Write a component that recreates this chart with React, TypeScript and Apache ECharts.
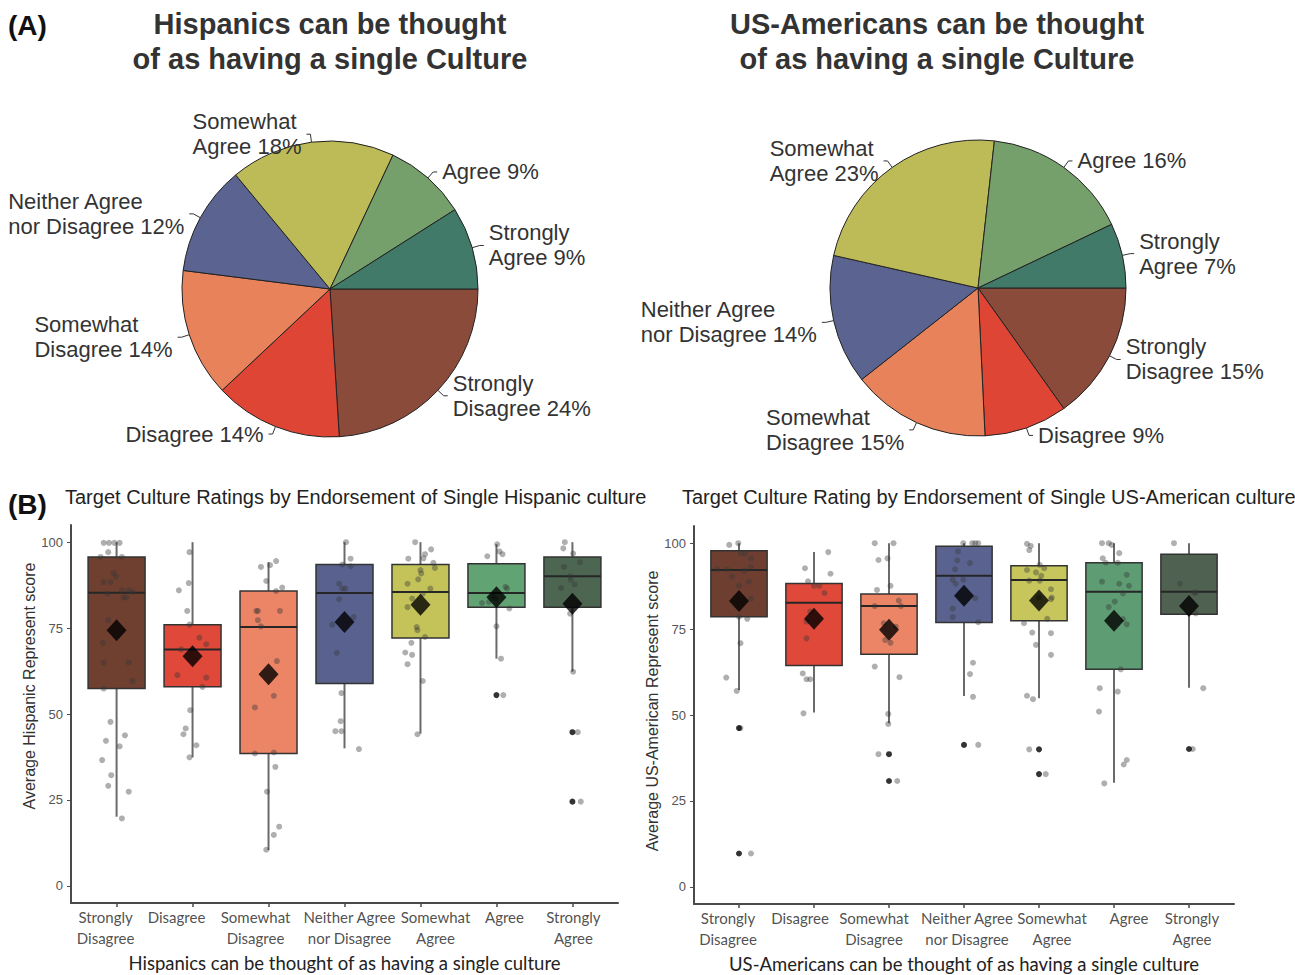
import React, { useEffect, useRef } from "react";
import * as echarts from "echarts";

// ---------- DATA ----------
const answerLabels = [
  "Strongly\nDisagree",
  "Disagree",
  "Somewhat\nDisagree",
  "Neither Agree\nnor Disagree",
  "Somewhat\nAgree",
  "Agree",
  "Strongly\nAgree",
];
const catTicks = [1, 2, 3, 4, 5, 6, 7];
const scoreTicks = [0, 25, 50, 75, 100];

const pieColors = ["#8A4B3B", "#DE4535", "#E8825A", "#5B6390", "#BDBB58", "#76A06B", "#417A68"];
const hispPie = [24, 14, 14, 12, 18, 9, 9];
const usPie = [15, 9, 15, 14, 23, 16, 7];

const hispBoxColors = ["#6F3F30", "#E0483A", "#EC8466", "#59628F", "#C3C35A", "#62A374", "#4D6652"];
const usBoxColors = ["#6E3F31", "#E0483A", "#EC8466", "#5A6390", "#C7C65C", "#5E9C74", "#4F6252"];

// [min, Q1, median, Q3, max]
const hispBoxStats = [
  [20.1, 57.4, 85.3, 95.7, 100],
  [37.4, 57.9, 68.8, 76.0, 100],
  [10.4, 38.5, 75.3, 85.8, 94.2],
  [40.0, 58.9, 85.2, 93.5, 100],
  [44.3, 72.1, 85.5, 93.5, 100],
  [66.1, 81.1, 85.2, 93.7, 99.4],
  [62.3, 81.1, 90.1, 95.7, 100],
];
const hispMeans = [74.4, 66.8, 61.6, 76.8, 81.8, 84.0, 82.1];
// [category, outlier value]
const hispOutliers = [
  [6, 55.5],
  [7, 44.7],
  [7, 24.5],
];
// [category, jitter offset, value]
const hispPoints = [
  [1, -0.17, 99.8], [1, -0.1, 99.8], [1, -0.03, 99.8], [1, 0.04, 99.8], [1, -0.11, 97.1],
  [1, -0.21, 95.7], [1, 0.07, 95.7], [1, -0.04, 91], [1, -0.01, 90], [1, -0.17, 88.4],
  [1, -0.08, 88.4], [1, -0.12, 85], [1, 0.07, 86], [1, 0.16, 86], [1, 0.21, 85.5],
  [1, 0.09, 83.9], [1, 0.13, 83.9], [1, -0.11, 77.3], [1, -0.18, 70.7], [1, -0.17, 64.9],
  [1, 0.16, 65], [1, 0.21, 59.6], [1, -0.17, 57.4], [1, -0.08, 47.7], [1, -0.14, 42.2],
  [1, 0.11, 43.8], [1, 0.04, 40.6], [1, -0.19, 36.6], [1, -0.07, 32.2], [1, -0.11, 29.1],
  [1, 0.16, 27.4], [1, 0.07, 19.6],
  [2, -0.04, 97.1], [2, -0.18, 86], [2, -0.05, 88.1], [2, -0.07, 80], [2, -0.04, 76],
  [2, 0.09, 72.2], [2, 0.18, 70.3], [2, -0.15, 68.8], [2, -0.2, 61.3], [2, 0.18, 60.6],
  [2, 0.13, 57.9], [2, -0.03, 51.1], [2, -0.09, 45.8], [2, -0.12, 44.1], [2, 0.05, 40.9],
  [2, -0.04, 37.4],
  [3, -0.1, 92.8], [3, 0.02, 93.3], [3, 0.1, 94.5], [3, -0.03, 88.7], [3, 0.1, 85.8],
  [3, 0.18, 86.8], [3, -0.16, 80], [3, -0.14, 80], [3, 0.15, 80], [3, -0.14, 77.3],
  [3, -0.1, 75.5], [3, 0.11, 65.4], [3, 0.07, 55.3], [3, -0.18, 51.9], [3, -0.18, 38.5],
  [3, 0.07, 38.8], [3, 0.09, 34.6], [3, -0.02, 27.4], [3, 0.07, 14.8], [3, 0.14, 17.2],
  [3, -0.03, 10.5],
  [4, 0.02, 100], [4, 0.08, 95.2], [4, -0.03, 93.5], [4, 0.08, 93], [4, -0.07, 87.9],
  [4, -0.03, 86.5], [4, 0.01, 86.5], [4, -0.07, 83.4], [4, 0.12, 78.2], [4, -0.16, 76],
  [4, -0.1, 67.8], [4, -0.04, 56.1], [4, -0.05, 47.9], [4, -0.12, 45], [4, -0.04, 45],
  [4, 0.19, 39.8],
  [5, -0.07, 100], [5, 0.06, 96.5], [5, 0.14, 97.9], [5, 0.04, 95.3], [5, -0.16, 95.2],
  [5, 0.17, 94], [5, 0.19, 92.5], [5, 0.0, 91.9], [5, 0.01, 90.9], [5, -0.03, 89.2],
  [5, -0.17, 87.9], [5, 0.13, 86.5], [5, 0.03, 85], [5, -0.11, 83.6], [5, -0.17, 81.1],
  [5, -0.05, 75.3], [5, -0.04, 74.4], [5, 0.06, 72.4], [5, -0.12, 70.7], [5, -0.2, 67.9],
  [5, -0.11, 67.2], [5, -0.17, 64.5], [5, 0.03, 59.6], [5, -0.04, 44.1],
  [6, 0.01, 99.4], [6, -0.12, 95.9], [6, 0.04, 97.3], [6, 0.08, 96.5], [6, 0.12, 87],
  [6, 0.14, 86.5], [6, -0.05, 84.3], [6, -0.01, 83.6], [6, -0.19, 82.3], [6, -0.1, 82.6],
  [6, 0.17, 80.7], [6, 0.0, 75.5], [6, 0.06, 66.1], [6, 0.09, 55.5],
  [7, -0.1, 100], [7, -0.12, 98.2], [7, 0.01, 96.7], [7, 0.1, 94.2], [7, -0.11, 92.8],
  [7, -0.03, 90.1], [7, -0.02, 89], [7, -0.15, 86.7], [7, 0.03, 87.7], [7, -0.03, 79.2],
  [7, 0.01, 62.3], [7, 0.07, 44.7], [7, 0.11, 24.5],
];

const usBoxStats = [
  [57.3, 78.6, 92.2, 97.8, 100],
  [50.7, 64.4, 82.7, 88.3, 97.4],
  [47.6, 67.7, 81.7, 85.2, 100],
  [55.5, 76.9, 90.5, 99.1, 100],
  [54.9, 77.4, 89.3, 93.4, 100],
  [30.3, 63.3, 85.9, 94.3, 100],
  [57.9, 79.3, 85.9, 96.8, 100],
];
const usMeans = [83.2, 78.0, 74.8, 84.7, 83.3, 77.4, 81.7];
const usOutliers = [
  [1, 46.2],
  [1, 9.7],
  [3, 38.6],
  [3, 30.8],
  [4, 41.3],
  [5, 40.0],
  [5, 32.8],
  [7, 40.1],
];
const usPoints = [
  [1, -0.13, 99.5], [1, -0.01, 100], [1, 0.08, 97], [1, 0.02, 97.1], [1, 0.16, 95.6],
  [1, -0.29, 92.4], [1, -0.16, 92.4], [1, 0.07, 92], [1, 0.16, 93], [1, -0.09, 90.3],
  [1, 0.0, 87.6], [1, 0.13, 88.8], [1, 0.16, 83.8], [1, 0.0, 78.6], [1, 0.11, 78],
  [1, 0.02, 70.9], [1, -0.17, 60.9], [1, -0.03, 57], [1, 0.02, 46.2], [1, 0.16, 9.7],
  [2, 0.19, 97.4], [2, -0.12, 92.7], [2, 0.22, 91.1], [2, -0.08, 88.9], [2, 0.0, 87.6],
  [2, 0.07, 87.6], [2, 0.14, 85.5], [2, -0.05, 80.1], [2, -0.1, 77.2], [2, -0.1, 72.3],
  [2, -0.15, 62.1], [2, -0.1, 60.4], [2, -0.05, 60.4], [2, -0.14, 50.5],
  [3, -0.19, 100], [3, 0.06, 100], [3, -0.14, 95.1], [3, -0.02, 95.6], [3, 0.02, 87.6],
  [3, -0.16, 86.4], [3, -0.19, 81.7], [3, 0.13, 83.3], [3, 0.16, 81.7], [3, -0.07, 76.7],
  [3, 0.09, 75.7], [3, -0.05, 71.8], [3, 0.02, 71], [3, -0.19, 64.1], [3, 0.14, 61],
  [3, -0.01, 50.3], [3, -0.01, 47.4], [3, -0.14, 38.6], [3, 0.11, 30.8],
  [4, -0.01, 100], [4, -0.08, 97.6], [4, -0.09, 95], [4, -0.12, 92.4], [4, -0.15, 89.4],
  [4, -0.11, 88.2], [4, -0.15, 81], [4, -0.15, 78.5], [4, 0.11, 100], [4, 0.15, 100],
  [4, 0.19, 100], [4, 0.08, 94.2], [4, -0.01, 89.4], [4, 0.15, 84], [4, 0.19, 77],
  [4, 0.12, 65.2], [4, 0.08, 61.9], [4, 0.12, 55.3], [4, 0.19, 41.3],
  [5, -0.16, 99.8], [5, -0.11, 99.2], [5, -0.13, 98], [5, 0.01, 93.7], [5, -0.16, 92.2],
  [5, 0.07, 92.7], [5, -0.04, 91.5], [5, 0.03, 90.5], [5, -0.13, 89.1], [5, 0.01, 89.1],
  [5, 0.16, 86.6], [5, 0.0, 84.2], [5, 0.16, 83.7], [5, 0.17, 84.2], [5, 0.11, 78],
  [5, -0.2, 76.7], [5, -0.09, 74], [5, 0.16, 73.8], [5, -0.04, 70.4], [5, 0.16, 67.5],
  [5, -0.16, 55.6], [5, -0.08, 54.6], [5, -0.13, 40], [5, 0.09, 32.8],
  [6, -0.16, 100], [6, -0.07, 100], [6, -0.03, 99.5], [6, 0.07, 97.1], [6, -0.15, 95.6],
  [6, -0.11, 94.3], [6, 0.05, 94.3], [6, 0.17, 90.8], [6, -0.16, 88.8], [6, 0.07, 88.2],
  [6, 0.2, 87.6], [6, 0.12, 85.4], [6, 0.01, 83], [6, -0.07, 81.4], [6, 0.12, 77.9],
  [6, 0.17, 76.4], [6, 0.09, 63.3], [6, -0.19, 57.8], [6, 0.05, 56.8], [6, -0.2, 51],
  [6, 0.17, 36.9], [6, 0.13, 35.6], [6, -0.13, 30.1],
  [7, -0.2, 100], [7, -0.12, 88.2], [7, 0.07, 85.6], [7, 0.09, 85.6], [7, 0.09, 79.6],
  [7, 0.19, 57.8], [7, 0.05, 40.1],
];

const pieTitles = [
  "Hispanics can be thought\nof as having a single Culture",
  "US-Americans can be thought\nof as having a single Culture",
];
const boxTitles = [
  "Target Culture Ratings by Endorsement of Single Hispanic culture",
  "Target Culture Rating by Endorsement of Single US-American culture",
];
const xAxisNames = [
  "Hispanics can be thought of as having a single culture",
  "US-Americans can be thought of as having a single culture",
];
const yAxisNames = ["Average Hispanic Represent score", "Average US-American Represent score"];

// ---------- STYLE ----------
const ARIAL = "'Liberation Sans', Arial, sans-serif";
const CAL = "Lato, 'Open Sans', sans-serif";
// horizontal nudges (px) of the tick labels, as in the original figure
const labelShift = [
  [-11, -16, -13, 5, 15, 8, 1],
  [-11, -14, -15, 3, 13, 15, 3],
];

function pieSeries(values: number[], center: number[]) {
  return {
    type: "pie",
    center,
    radius: 148,
    startAngle: 0,
    clockwise: true,
    silent: true,
    data: values.map((v, i) => ({
      value: v,
      name: answerLabels[i],
      itemStyle: { color: pieColors[i] },
    })),
    itemStyle: { borderColor: "#222", borderWidth: 1 },
    label: {
      show: true,
      position: "outside",
      overflow: "none",
      bleedMargin: 4,
      formatter: (p: any) => `{t|${p.name} ${p.value}%}`,
      rich: {
        t: { align: "left", fontFamily: ARIAL, fontSize: 22, lineHeight: 25, color: "#333" },
      },
      fontFamily: ARIAL,
      fontSize: 22,
      lineHeight: 25,
      color: "#333",
    },
    labelLine: { show: true, length: 8, length2: 4, lineStyle: { color: "#333", width: 1 } },
  };
}

function axesFor(idx: number) {
  const xAxis = {
    type: "value",
    gridIndex: idx,
    min: 0.4,
    max: 7.6,
    splitLine: { show: false },
    axisLine: { show: true, onZero: false, lineStyle: { color: "#4a4a4a", width: 2 } },
    axisTick: { show: true, customValues: catTicks, length: 4, lineStyle: { color: "#4a4a4a", width: 1.5 } },
    axisLabel: { show: false },
    name: xAxisNames[idx],
    nameLocation: "middle",
    nameGap: 50,
    nameTextStyle: { fontFamily: CAL, fontSize: 18.5, color: "#222" },
  };
  const yAxis = {
    type: "value",
    gridIndex: idx,
    min: -5,
    max: 105,
    splitLine: { show: false },
    axisLine: { show: true, onZero: false, lineStyle: { color: "#4a4a4a", width: 2 } },
    axisTick: { show: true, customValues: scoreTicks, length: 4, lineStyle: { color: "#4a4a4a" } },
    axisLabel: {
      customValues: scoreTicks,
      showMinLabel: true,
      showMaxLabel: true,
      fontFamily: ARIAL,
      fontSize: 13,
      color: "#555",
      margin: 8,
    },
    name: yAxisNames[idx],
    nameLocation: "middle",
    nameRotate: 90,
    nameGap: 33,
    nameTextStyle: {
      fontFamily: ARIAL,
      fontSize: 16,
      color: "#333",
      padding: idx === 0 ? [0, 0, 0, 56] : [0, 0, 0, 8],
    },
  };
  return { xAxis, yAxis };
}

function boxSeries(idx: number, stats: number[][], colors: string[], means: number[], outliers: number[][], points: number[][]) {
  return [
    {
      type: "custom",
      xAxisIndex: idx,
      yAxisIndex: idx,
      silent: true,
      z: 2,
      encode: { x: 0, y: [1, 2, 3, 4, 5] },
      data: stats.map((s, i) => [i + 1, ...s]),
      renderItem: (params: any, api: any) => {
        const x = api.value(0);
        const lo = api.coord([x, api.value(1)]);
        const q1 = api.coord([x, api.value(2)]);
        const med = api.coord([x, api.value(3)]);
        const q3 = api.coord([x, api.value(4)]);
        const hi = api.coord([x, api.value(5)]);
        const half = api.size([0.75, 0])[0] / 2;
        const color = colors[params.dataIndex];
        return {
          type: "group",
          children: [
            { type: "line", shape: { x1: lo[0], y1: lo[1], x2: q1[0], y2: q1[1] }, style: { stroke: "#6a6a6a", lineWidth: 2 } },
            { type: "line", shape: { x1: hi[0], y1: hi[1], x2: q3[0], y2: q3[1] }, style: { stroke: "#6a6a6a", lineWidth: 2 } },
            {
              type: "rect",
              shape: { x: q3[0] - half, y: q3[1], width: 2 * half, height: q1[1] - q3[1] },
              style: { fill: color, stroke: "#333", lineWidth: 1.5 },
            },
            {
              type: "line",
              shape: { x1: med[0] - half, y1: med[1], x2: med[0] + half, y2: med[1] },
              style: { stroke: "#262626", lineWidth: 2 },
            },
          ],
        };
      },
    },
    {
      type: "scatter",
      xAxisIndex: idx,
      yAxisIndex: idx,
      silent: true,
      z: 3,
      symbolSize: 6,
      itemStyle: { color: "rgba(55,55,55,0.5)" },
      data: points.map((p) => [p[0] + p[1], p[2]]),
    },
    {
      type: "scatter",
      xAxisIndex: idx,
      yAxisIndex: idx,
      silent: true,
      z: 4,
      symbolSize: 6,
      itemStyle: { color: "#000" },
      data: outliers.map((o) => [o[0], o[1]]),
    },
    {
      type: "scatter",
      xAxisIndex: idx,
      yAxisIndex: idx,
      silent: true,
      z: 5,
      symbol: "diamond",
      symbolSize: [20, 22],
      itemStyle: { color: "#000" },
      data: means.map((m, i) => [i + 1, m]),
    },
    // category tick labels, anchored to the axis ticks
    {
      type: "scatter",
      xAxisIndex: idx,
      yAxisIndex: idx,
      silent: true,
      clip: false,
      z: 6,
      symbolSize: 0,
      itemStyle: { color: "transparent" },
      data: catTicks.map((c, i) => ({
        value: [c, -5],
        label: { offset: [labelShift[idx][i], 0] },
      })),
      label: {
        show: true,
        position: "bottom",
        distance: 3,
        align: "center",
        formatter: (p: any) => answerLabels[p.dataIndex],
        fontFamily: CAL,
        fontSize: 15,
        lineHeight: 21,
        color: "#222",
      },
    },
  ];
}

export default function App() {
  const ref = useRef<HTMLDivElement>(null);
  useEffect(() => {
    if (!ref.current) return;
    const chart = echarts.init(ref.current, undefined, { renderer: "svg" });
    const a0 = axesFor(0);
    const a1 = axesFor(1);
    chart.setOption({
      animation: false,
      backgroundColor: "#fff",
      grid: [
        { left: 71, top: 525, width: 547, height: 378 },
        { left: 694, top: 526, width: 540, height: 378 },
      ],
      xAxis: [a0.xAxis, a1.xAxis],
      yAxis: [a0.yAxis, a1.yAxis],
      graphic: [
        { type: "text", x: 8, y: 11, style: { text: "(A)", fontFamily: ARIAL, fontSize: 28, fontWeight: "bold", fill: "#111" } },
        { type: "text", x: 8, y: 490, style: { text: "(B)", fontFamily: ARIAL, fontSize: 28, fontWeight: "bold", fill: "#111" } },
        { type: "text", x: 330, y: 6, style: { text: pieTitles[0], align: "center", fontFamily: ARIAL, fontSize: 29, fontWeight: "bold", lineHeight: 35, fill: "#333" } },
        { type: "text", x: 937, y: 6, style: { text: pieTitles[1], align: "center", fontFamily: ARIAL, fontSize: 29, fontWeight: "bold", lineHeight: 35, fill: "#333" } },
        { type: "text", x: 65, y: 487, style: { text: boxTitles[0], fontFamily: ARIAL, fontSize: 20, fill: "#222" } },
        { type: "text", x: 682, y: 487, style: { text: boxTitles[1], fontFamily: ARIAL, fontSize: 20, fill: "#222" } },
      ],
      series: [
        pieSeries(hispPie, [330, 289]),
        pieSeries(usPie, [978, 288]),
        ...boxSeries(0, hispBoxStats, hispBoxColors, hispMeans, hispOutliers, hispPoints),
        ...boxSeries(1, usBoxStats, usBoxColors, usMeans, usOutliers, usPoints),
      ],
    });
    return () => chart.dispose();
  }, []);
  return <div ref={ref} style={{ position: "absolute", left: 0, top: 0, width: 1295, height: 975 }} />;
}
